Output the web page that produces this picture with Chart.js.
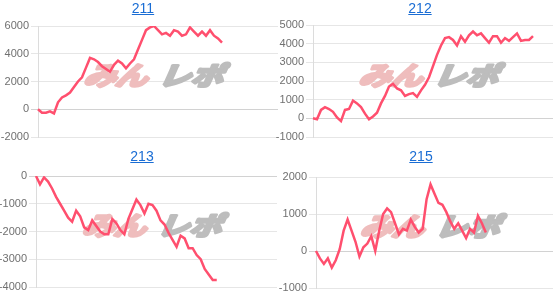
<!DOCTYPE html>
<html>
<head>
<meta charset="utf-8">
<script src="https://cdn.jsdelivr.net/npm/chart.js@4"></script>
<style>
  body { margin: 0; background: #fff; font-family: "Liberation Sans", Arial, sans-serif; }
  #wrap { position: relative; width: 555px; height: 297px; overflow: hidden; }
  .cell { position: absolute; }
  .cell canvas { position: absolute; left: 0; top: 0; }
  .ttl { position: absolute; top: 0; width: 100px; text-align: center; font-size: 14px; line-height: 17px; }
  .ttl a { color: #1a6dd4; text-decoration: underline; }
</style>
</head>
<body>
<div id="wrap"></div>
<script>
// x slots (the chart keeps room for the whole day, data stops earlier)
const xLabels = Array.from({ length: 61 }, (_, i) => String(i + 1));

const names = ['211', '212', '213', '215'];

const data211 = [0, -250, -250, -150, -300, 500, 850, 1000, 1200, 1600, 2000, 2300, 3000, 3700, 3600,
  3400, 3100, 2900, 2700, 3200, 3500, 3300, 2950, 3300, 3600, 4300, 5000, 5700, 5900, 6000,
  5700, 5400, 5500, 5300, 5700, 5600, 5300, 5400, 5900, 5600, 5300, 5600, 5300, 5700, 5300, 5100, 4800];

const data212 = [0, -50, 450, 600, 500, 350, 50, -150, 450, 500, 950, 800, 600, 250, -50,
  100, 300, 800, 1200, 1700, 1850, 1600, 1500, 1200, 1300, 1350, 1150, 1500, 1800, 2200,
  2800, 3400, 3900, 4300, 4350, 4200, 3900, 4400, 4100, 4450, 4650, 4450, 4550, 4300, 4050,
  4400, 4400, 4050, 4300, 4150, 4350, 4550, 4150, 4200, 4200, 4400];

const data213 = [0, -300, -50, -200, -450, -750, -1000, -1250, -1500, -1650, -1250, -1450, -1850, -1950, -1600,
  -1800, -2000, -2100, -2100, -1550, -1700, -1950, -2100, -1550, -1200, -850, -1050, -1350, -1000, -1050,
  -1250, -1600, -1750, -2050, -2300, -2550, -2150, -2250, -2600, -2600, -2850, -3000, -3350, -3550, -3750, -3750];

const data215 = [0, -200, -350, -200, -450, -250, 50, 550, 850, 550, 250, -150, 100, 200, 400,
  0, 550, 1000, 1150, 1050, 750, 450, 600, 550, 850, 650, 500, 600, 1400, 1800,
  1550, 1300, 1250, 1050, 800, 600, 750, 550, 350, 600, 500, 950, 750, 500];

// y axis ranges per chart: [min, max, step]
const yRanges = [[-2000, 6000, 2000], [-1000, 5000, 1000], [-4000, 0, 1000], [-1000, 2000, 1000]];

const seriesList = [data211, data212, data213, data215];

// cell geometry: left, top, width, height, axis width, padding top/bottom/right, title center
const cells = [
  { x: 0, y: 0, w: 278, h: 148, axisW: 38, pt: 26, pb: 11, pr: 0, tc: 143 },
  { x: 275, y: 0, w: 280, h: 148, axisW: 38, pt: 25, pb: 11, pr: 2, tc: 145 },
  { x: 0, y: 148, w: 278, h: 149, axisW: 36, pt: 28, pb: 10, pr: 1, tc: 142 },
  { x: 275, y: 148, w: 280, h: 149, axisW: 41, pt: 29, pb: 9, pr: 2, tc: 146 }
];

const lineColor = '#ff4f6e';

// watermark logo drawn behind the line
const watermark = {
  id: 'watermark',
  beforeDatasetsDraw(chart) {
    const { ctx, chartArea } = chart;
    const cx = (chartArea.left + chartArea.right) / 2;
    const cy = (chartArea.top + chartArea.bottom) / 2 - 7;
    ctx.save();
    ctx.translate(cx, cy);
    ctx.scale(1.08, 0.85);
    ctx.transform(1, 0, -0.35, 1, 0, 0);
    ctx.font = 'bold 30px "Noto Sans CJK JP", sans-serif';
    ctx.textBaseline = 'middle';
    ctx.textAlign = 'center';
    ctx.lineJoin = 'round';
    ctx.lineWidth = 3.5;
    const parts = [['み', -50, '#efbdbd'], ['ん', -21, '#efbdbd'], ['レ', 19, '#bdbdbd'], ['ポ', 49, '#bdbdbd']];
    parts.forEach(([ch, dx, col]) => {
      ctx.fillStyle = col;
      ctx.strokeStyle = col;
      ctx.strokeText(ch, dx, 1);
      ctx.fillText(ch, dx, 1);
    });
    ctx.restore();
  }
};

const wrap = document.getElementById('wrap');

cells.forEach((c, k) => {
  const cell = document.createElement('div');
  cell.className = 'cell';
  cell.style.left = c.x + 'px';
  cell.style.top = c.y + 'px';
  cell.style.width = c.w + 'px';
  cell.style.height = c.h + 'px';

  const cv = document.createElement('canvas');
  cv.width = c.w;
  cv.height = c.h;
  cv.style.width = c.w + 'px';
  cv.style.height = c.h + 'px';
  cell.appendChild(cv);

  const ttl = document.createElement('div');
  ttl.className = 'ttl';
  ttl.style.left = (c.tc - 50) + 'px';
  ttl.innerHTML = '<a href="#">' + names[k] + '</a>';
  cell.appendChild(ttl);

  wrap.appendChild(cell);

  const [yMin, yMax, yStep] = yRanges[k];

  new Chart(cv.getContext('2d'), {
    type: 'line',
    data: {
      labels: xLabels,
      datasets: [{
        data: seriesList[k],
        borderColor: lineColor,
        borderWidth: 2.5,
        pointRadius: 0,
        tension: 0,
        fill: false
      }]
    },
    options: {
      responsive: false,
      animation: false,
      layout: { padding: { top: c.pt, bottom: c.pb, left: 0, right: c.pr } },
      scales: {
        x: { display: false },
        y: {
          min: yMin,
          max: yMax,
          afterFit: (scale) => { scale.width = c.axisW; },
          border: { color: '#dcdcdc' },
          grid: {
            color: (ctx) => ctx.tick && ctx.tick.value === 0 ? '#d2d2d2' : '#e6e6e6',
            tickLength: 7
          },
          ticks: {
            stepSize: yStep,
            padding: 2,
            color: '#707070',
            font: { family: '"Liberation Sans", Arial, sans-serif', size: 11 },
            callback: (v) => String(v)
          }
        }
      },
      plugins: { legend: { display: false }, tooltip: { enabled: false } }
    },
    plugins: [watermark]
  });
});
</script>
</body>
</html>
